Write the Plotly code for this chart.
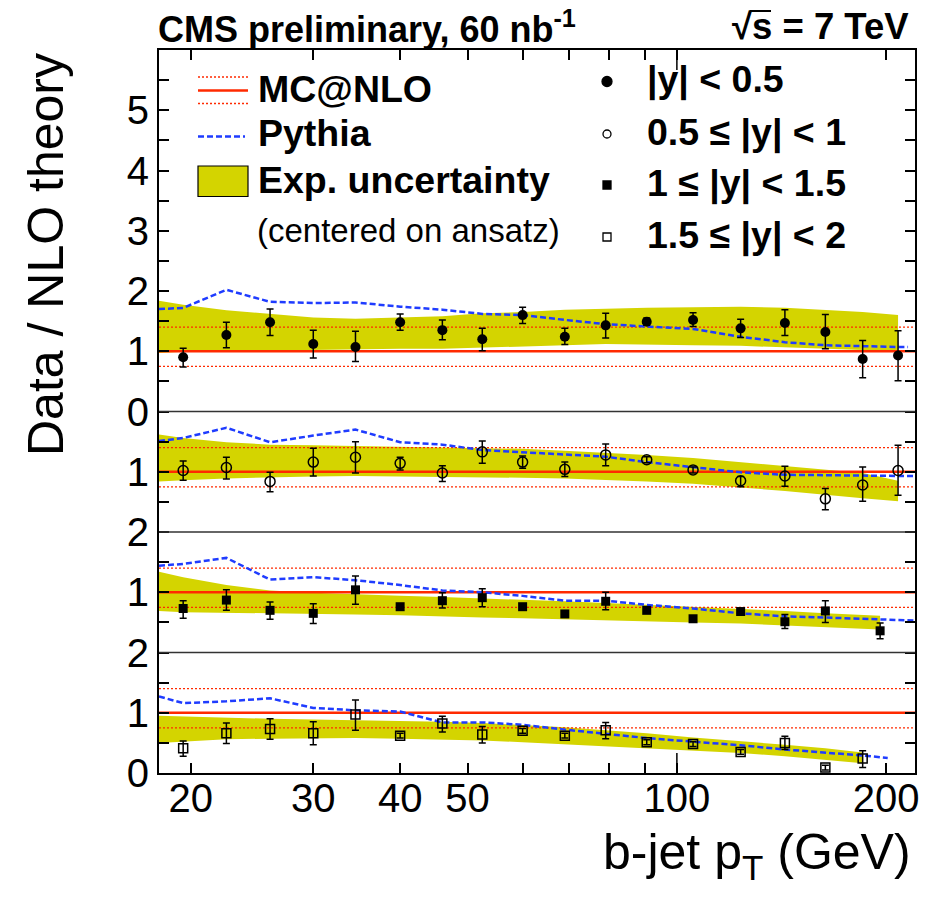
import math
import plotly.graph_objects as go

# ---------------- data ----------------
CENTERS = [19.5, 22.5, 26, 30, 34.5, 40, 46, 52.5, 60, 69, 79, 90.5, 105.5, 123.5, 143, 163.5, 185, 208]

# |y| < 0.5
x1 = CENTERS
vals1 = [0.90, 1.27, 1.48, 1.12, 1.07, 1.48, 1.35, 1.20, 1.60, 1.24, 1.43, 1.49, 1.52, 1.38, 1.47, 1.32, 0.87, 0.93]
up1 = [0.15, 0.21, 0.22, 0.23, 0.26, 0.14, 0.17, 0.18, 0.13, 0.14, 0.20, 0.06, 0.12, 0.15, 0.22, 0.29, 0.31, 0.41]
dn1 = [0.16, 0.21, 0.22, 0.23, 0.24, 0.13, 0.16, 0.19, 0.14, 0.13, 0.21, 0.06, 0.11, 0.15, 0.21, 0.28, 0.31, 0.42]

# 0.5 <= |y| < 1
x2 = CENTERS
vals2 = [1.02, 1.07, 0.84, 1.16, 1.24, 1.14, 0.98, 1.33, 1.16, 1.04, 1.28, 1.20, 1.03, 0.85, 0.93, 0.55, 0.78, 1.02]
up2 = [0.16, 0.17, 0.15, 0.23, 0.26, 0.10, 0.12, 0.18, 0.10, 0.12, 0.18, 0.05, 0.05, 0.07, 0.16, 0.17, 0.30, 0.42]
dn2 = [0.16, 0.19, 0.17, 0.23, 0.26, 0.11, 0.14, 0.19, 0.10, 0.12, 0.18, 0.05, 0.05, 0.10, 0.17, 0.18, 0.27, 0.41]

# 1 <= |y| < 1.5
x3 = CENTERS[:16] + [196]
vals3 = [0.73, 0.87, 0.70, 0.65, 1.04, 0.76, 0.86, 0.91, 0.76, 0.64, 0.85, 0.70, 0.56, 0.68, 0.51, 0.69, 0.36]
up3 = [0.13, 0.17, 0.14, 0.16, 0.23, 0.04, 0.13, 0.15, 0.04, 0.04, 0.15, 0.04, 0.04, 0.04, 0.12, 0.17, 0.13]
dn3 = [0.16, 0.17, 0.15, 0.17, 0.24, 0.04, 0.12, 0.15, 0.04, 0.04, 0.14, 0.04, 0.04, 0.04, 0.11, 0.19, 0.13]

# 1.5 <= |y| < 2
x4 = CENTERS[:17]
vals4 = [0.41, 0.66, 0.73, 0.66, 0.97, 0.62, 0.82, 0.64, 0.70, 0.62, 0.71, 0.51, 0.48, 0.35, 0.50, 0.09, 0.24]
up4 = [0.12, 0.17, 0.17, 0.19, 0.24, 0.04, 0.12, 0.13, 0.04, 0.04, 0.13, 0.04, 0.04, 0.04, 0.11, 0.04, 0.13]
dn4 = [0.13, 0.17, 0.17, 0.19, 0.26, 0.04, 0.14, 0.14, 0.04, 0.04, 0.14, 0.04, 0.04, 0.04, 0.11, 0.04, 0.15]

# Pythia / NLO
pyx1 = [18] + CENTERS + [215]
py1 = [1.70, 1.72, 2.02, 1.82, 1.80, 1.81, 1.74, 1.69, 1.62, 1.60, 1.52, 1.45, 1.41, 1.37, 1.24, 1.15, 1.10, 1.08, 1.07, 1.07]
pyx2 = [18] + CENTERS + [220]
py2 = [1.51, 1.56, 1.73, 1.49, 1.60, 1.70, 1.49, 1.45, 1.36, 1.32, 1.29, 1.25, 1.16, 1.07, 0.99, 0.95, 0.94, 0.94, 0.93, 0.93]
pyx3 = [18] + CENTERS[:16] + [196, 220]
py3 = [1.44, 1.47, 1.57, 1.21, 1.25, 1.20, 1.12, 1.03, 1.00, 0.94, 0.86, 0.86, 0.79, 0.73, 0.65, 0.60, 0.58, 0.55, 0.53]
pyx4 = [18] + CENTERS[:17] + [201]
py4 = [1.27, 1.16, 1.19, 1.24, 1.08, 1.04, 1.02, 0.84, 0.84, 0.80, 0.72, 0.65, 0.58, 0.52, 0.46, 0.39, 0.34, 0.29, 0.25]

# Experimental uncertainty band (centered on ansatz)
bx1 = [18] + CENTERS
bhi1 = [1.84, 1.77, 1.68, 1.62, 1.56, 1.54, 1.56, 1.58, 1.63, 1.65, 1.69, 1.71, 1.72, 1.73, 1.74, 1.72, 1.68, 1.65, 1.60]
blo1 = [0.97, 0.99, 1.01, 1.01, 1.02, 1.03, 1.04, 1.04, 1.06, 1.08, 1.10, 1.12, 1.11, 1.10, 1.09, 1.07, 1.04, 1.02, 1.01]
bx2 = [18] + CENTERS
bhi2 = [1.62, 1.56, 1.49, 1.45, 1.44, 1.43, 1.42, 1.41, 1.40, 1.38, 1.35, 1.32, 1.28, 1.23, 1.16, 1.10, 1.04, 0.98, 0.85]
blo2 = [0.84, 0.86, 0.89, 0.91, 0.92, 0.93, 0.93, 0.92, 0.91, 0.90, 0.89, 0.87, 0.84, 0.80, 0.74, 0.68, 0.62, 0.56, 0.51]
bx3 = [18] + CENTERS[:16] + [196]
bhi3 = [1.34, 1.25, 1.12, 1.03, 0.99, 0.96, 0.94, 0.92, 0.90, 0.87, 0.85, 0.82, 0.79, 0.76, 0.72, 0.69, 0.65, 0.61]
blo3 = [0.69, 0.67, 0.65, 0.64, 0.64, 0.63, 0.62, 0.60, 0.58, 0.57, 0.56, 0.54, 0.52, 0.50, 0.48, 0.45, 0.42, 0.38]
bx4 = [18] + CENTERS[:17]
bhi4 = [0.95, 0.94, 0.91, 0.90, 0.89, 0.88, 0.87, 0.85, 0.83, 0.80, 0.76, 0.71, 0.66, 0.59, 0.53, 0.47, 0.41, 0.34]
blo4 = [0.50, 0.52, 0.56, 0.57, 0.58, 0.58, 0.57, 0.56, 0.54, 0.51, 0.48, 0.45, 0.41, 0.37, 0.33, 0.28, 0.22, 0.16]

# MC@NLO reference (central and dotted band)
NLO_X = [18, 220]
NLO_CENTRAL = 1.0
NLO_UP = 1.4
NLO_DOWN = 0.75

PANEL_OFFSETS = [0, -2, -4, -6]
PANEL_LABELS = ["|y| < 0.5", "0.5 ≤ |y| < 1", "1 ≤ |y| < 1.5", "1.5 ≤ |y| < 2"]

Y_TICK_VALUES = [-6, -5, -4, -3, -2, -1, 0, 1, 2, 3, 4, 5]
Y_TICK_TEXT = ["0", "1", "2", "1", "2", "1", "0", "1", "2", "3", "4", "5"]
X_TICK_VALUES = [20, 30, 40, 50, 60, 70, 80, 90, 100, 200]
X_TICK_TEXT = ["20", "30", "40", "50", "", "", "", "", "100", "200"]

# ---------------- style ----------------
FONT = "Liberation Sans, Arial, Helvetica, sans-serif"
RED = "#ff2a00"
BLUE = "#1f3cff"
YELLOW = "#d4d400"
BODY = 8  # default page margin of the html body
W, H = 937 - BODY, 899 - BODY
ML, MR, MT, MB = 159 - BODY, 22, 50 - BODY, 126
PW, PH = W - ML - MR, H - MT - MB


def px(x):
    """reference-window x pixel -> paper coordinate"""
    return (x - BODY - ML) / PW


def py(y):
    """reference-window y pixel -> paper coordinate"""
    return (H - MB - (y - BODY)) / PH


fig = go.Figure()

panels = [
    (x1, vals1, up1, dn1, pyx1, py1, bx1, bhi1, blo1, "circle", 10),
    (x2, vals2, up2, dn2, pyx2, py2, bx2, bhi2, blo2, "circle-open", 10),
    (x3, vals3, up3, dn3, pyx3, py3, bx3, bhi3, blo3, "square", 9),
    (x4, vals4, up4, dn4, pyx4, py4, bx4, bhi4, blo4, "square-open", 9),
]

for (xs, vs, ups, dns, pxs, pys, bxs, bhs, bls, sym, msize), off, lab in zip(panels, PANEL_OFFSETS, PANEL_LABELS):
    fig.add_trace(go.Scatter(
        x=bxs + bxs[::-1], y=[v + off for v in bhs] + [v + off for v in bls[::-1]],
        fill="toself", fillcolor=YELLOW, line=dict(width=0, color=YELLOW),
        mode="lines", hoverinfo="skip", showlegend=False))
    for lvl in (NLO_UP, NLO_DOWN):
        fig.add_trace(go.Scatter(
            x=NLO_X, y=[lvl + off] * 2, mode="lines",
            line=dict(color=RED, width=1.3, dash="2px,2px"), showlegend=False, hoverinfo="skip"))
    fig.add_trace(go.Scatter(
        x=NLO_X, y=[NLO_CENTRAL + off] * 2, mode="lines",
        line=dict(color=RED, width=2.6), showlegend=False, hoverinfo="skip"))
    fig.add_trace(go.Scatter(
        x=pxs, y=[v + off for v in pys], mode="lines",
        line=dict(color=BLUE, width=2.5, dash="6px,3px"), showlegend=False, hoverinfo="skip"))
    mk = dict(symbol=sym, size=msize, color="black")
    if "open" in sym:
        mk["line"] = dict(width=1.5, color="black")
    fig.add_trace(go.Scatter(
        x=xs, y=[v + off for v in vs], mode="markers", name=lab,
        marker=mk,
        error_y=dict(type="data", symmetric=False, array=ups, arrayminus=dns,
                     color="black", thickness=1.5, width=3.5),
        showlegend=False))

shapes = []
for yb in (0, -2, -4):
    shapes.append(dict(type="line", xref="paper", yref="y", x0=0, x1=1, y0=yb, y1=yb,
                       line=dict(color="#333333", width=1.5), layer="above"))

# long decade tick at 100 (bottom and top)
lo, hi = math.log10(18), math.log10(220)
xp100 = (2 - lo) / (hi - lo)
shapes.append(dict(type="line", xref="paper", yref="paper", x0=xp100, x1=xp100, y0=0, y1=20 / PH,
                   line=dict(color="black", width=1.5)))
shapes.append(dict(type="line", xref="paper", yref="paper", x0=xp100, x1=xp100, y0=1, y1=1 - 20 / PH,
                   line=dict(color="black", width=1.5)))

# legend (left)
lx0, lx1 = px(198), px(248)
shapes.append(dict(type="line", xref="paper", yref="paper", x0=lx0, x1=lx1, y0=py(77), y1=py(77),
                   line=dict(color=RED, width=1.3, dash="2px,2px")))
shapes.append(dict(type="line", xref="paper", yref="paper", x0=lx0, x1=lx1, y0=py(90.5), y1=py(90.5),
                   line=dict(color=RED, width=2.6)))
shapes.append(dict(type="line", xref="paper", yref="paper", x0=lx0, x1=lx1, y0=py(103.5), y1=py(103.5),
                   line=dict(color=RED, width=1.3, dash="2px,2px")))
shapes.append(dict(type="line", xref="paper", yref="paper", x0=lx0, x1=px(245), y0=py(136.5), y1=py(136.5),
                   line=dict(color=BLUE, width=2.5, dash="6px,3px")))
shapes.append(dict(type="rect", xref="paper", yref="paper", x0=lx0, x1=lx1, y0=py(196.5), y1=py(166),
                   fillcolor=YELLOW, line=dict(color="black", width=1.2)))

# legend (right) markers
mxc = px(607)
mark_y = [81.5, 134, 185, 237]
for i, yy in enumerate(mark_y):
    typ = "circle" if i < 2 else "rect"
    r = 5 if i == 0 else 4
    fill = "black" if i in (0, 2) else "white"
    shapes.append(dict(type=typ, xref="paper", yref="paper", xsizemode="pixel", ysizemode="pixel",
                       xanchor=mxc, yanchor=py(yy), x0=-r, x1=r, y0=-r, y1=r,
                       fillcolor=fill, line=dict(color="black", width=1.3)))

# overline of the square root
shapes.append(dict(type="line", xref="paper", yref="paper", x0=px(750), x1=px(771), y0=py(11), y1=py(11),
                   line=dict(color="black", width=2)))

annotations = []


def txt(x, y, s, size, xanchor="left", bold=True, angle=0):
    annotations.append(dict(
        x=px(x), y=py(y), xref="paper", yref="paper", text=(f"<b>{s}</b>" if bold else s),
        showarrow=False, xanchor=xanchor, yanchor="middle", textangle=angle,
        font=dict(family=FONT, size=size, color="black")))


txt(156, 27, "CMS preliminary, 60 nb<sup>-1</sup>", 36)
txt(911, 27, "√s = 7 TeV", 36.5, xanchor="right")
txt(256, 89, "MC@NLO", 37.5)
txt(256, 133, "Pythia", 37.5)
txt(256, 180, "Exp. uncertainty", 37.5)
txt(255, 230, "(centered on ansatz)", 33, bold=False)
for lab, yy in zip(PANEL_LABELS, [80, 132, 183, 236]):
    txt(645, yy, lab, 37.5)

annotations.append(dict(x=px(46), y=py(255), xref="paper", yref="paper", text="Data / NLO theory",
                        showarrow=False, textangle=-90, xanchor="center", yanchor="middle",
                        font=dict(family=FONT, size=50, color="black")))
annotations.append(dict(x=px(913), y=py(855), xref="paper", yref="paper", text="b-jet p<sub>T</sub> (GeV)",
                        showarrow=False, xanchor="right", yanchor="middle",
                        font=dict(family=FONT, size=50, color="black")))

ytv, ytt = [], []
for k in range(25):
    v = -6 + 0.5 * k
    ytv.append(v)
    ytt.append(Y_TICK_TEXT[Y_TICK_VALUES.index(int(v))] if v == int(v) and int(v) in Y_TICK_VALUES else "")

fig.update_layout(
    width=W, height=H, margin=dict(l=ML, r=MR, t=MT, b=MB, pad=0),
    paper_bgcolor="white", plot_bgcolor="white",
    showlegend=False,
    shapes=shapes, annotations=annotations,
    xaxis=dict(type="log", range=[lo, hi], tickvals=X_TICK_VALUES, ticktext=X_TICK_TEXT,
               ticks="inside", ticklen=10, tickwidth=1.5, tickcolor="black",
               showline=True, linewidth=2, linecolor="black", mirror="ticks",
               showgrid=False, zeroline=False, ticklabelstandoff=-11,
               tickfont=dict(family=FONT, size=40, color="black")),
    yaxis=dict(range=[-6, 6], tickvals=ytv, ticktext=ytt,
               ticks="inside", ticklen=10, tickwidth=1.5, tickcolor="black",
               showline=True, linewidth=2, linecolor="black", mirror="ticks",
               showgrid=False, zeroline=False,
               tickfont=dict(family=FONT, size=40, color="black")),
)

fig.write_html("out.html")
